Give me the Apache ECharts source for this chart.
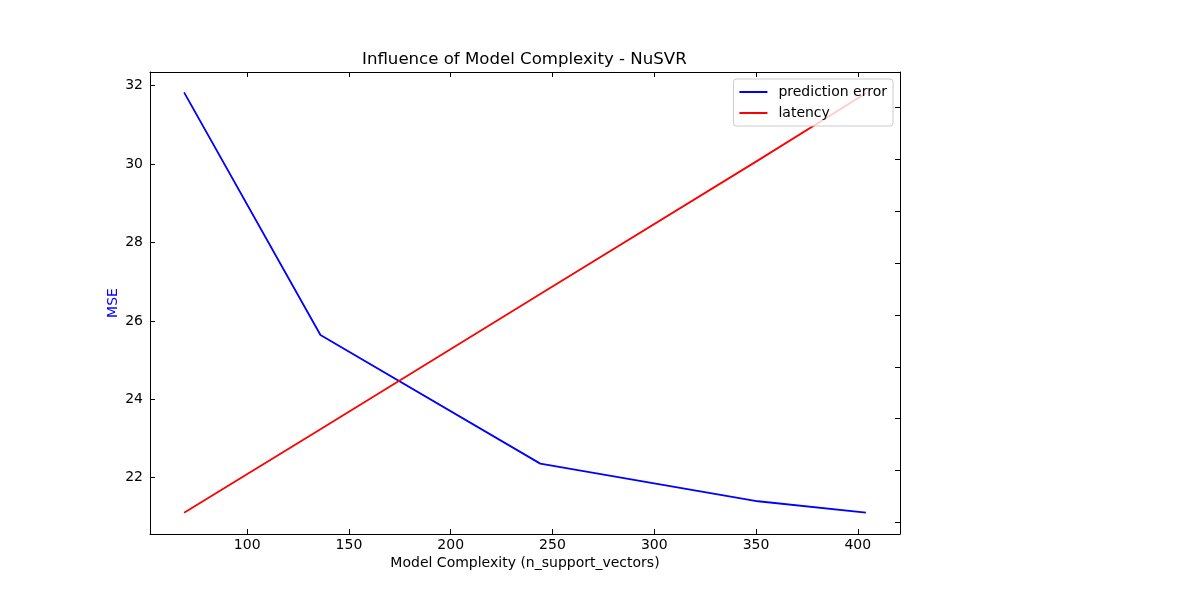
<!DOCTYPE html>
<html>
<head>
<meta charset="utf-8">
<script src="https://cdn.jsdelivr.net/npm/echarts@6/dist/echarts.min.js"></script>
<style>html,body{margin:0;padding:0;background:#fff}#c{width:1200px;height:600px}</style>
</head>
<body>
<div id="c"></div>
<script>
const nSupportVectors = [69, 136, 244, 351, 404];
const predictionError = [31.83, 25.64, 22.36, 21.40, 21.11];
const latency = [1.19, 2.80, 5.40, 7.97, 9.26];
const xTicks = [100, 150, 200, 250, 300, 350, 400];
const mseTicks = [22, 24, 26, 28, 30, 32];
const latencyTicks = [1, 2, 3, 4, 5, 6, 7, 8, 9];

const font = 'DejaVu Sans';
const chart = echarts.init(document.getElementById('c'), null, {renderer: 'canvas'});
const lineStyleAxis = {show: true, lineStyle: {color: '#000', width: 1}};
const tickIn = (vals) => ({show: true, inside: true, length: 5, customValues: vals, lineStyle: {color: '#000', width: 1}});

chart.setOption({
  animation: false,
  backgroundColor: '#fff',
  title: {
    text: 'Influence of Model Complexity - NuSVR',
    left: 357, top: 46,
    textStyle: {fontFamily: font, fontSize: 16.6, fontWeight: 'normal', color: '#000'}
  },
  grid: {left: 150, right: 300, top: 72, bottom: 66, show: false},
  legend: {
    right: 307, top: 79, orient: 'vertical',
    itemWidth: 34, itemHeight: 2, itemGap: 7,
    icon: 'path://M0,0h28v2h-28zM33.99,0h0.01v2h-0.01z',
    padding: [6, 6, 6, 6],
    borderColor: '#cccccc', borderWidth: 1, borderRadius: 3,
    backgroundColor: 'rgba(255,255,255,0.8)',
    textStyle: {fontFamily: font, fontSize: 14, color: '#000'},
    data: ['prediction error', 'latency']
  },
  xAxis: [{
    type: 'value', position: 'bottom',
    min: 52.25, max: 420.75,
    name: 'Model Complexity (n_support_vectors)', nameLocation: 'middle', nameGap: 22,
    nameMoveOverlap: false,
    nameTextStyle: {fontFamily: font, fontSize: 14, color: '#000'},
    axisLine: lineStyleAxis,
    axisTick: tickIn(xTicks),
    axisLabel: {customValues: xTicks, fontFamily: font, fontSize: 14, color: '#000', margin: 4},
    splitLine: {show: false}
  }, {
    type: 'value', position: 'top',
    min: 52.25, max: 420.75,
    axisLine: lineStyleAxis,
    axisTick: tickIn(xTicks),
    axisLabel: {show: false},
    splitLine: {show: false}
  }],
  yAxis: [{
    type: 'value', position: 'left',
    min: 20.565, max: 32.35,
    name: 'MSE', nameLocation: 'middle', nameGap: 30,
    nameMoveOverlap: false,
    nameTextStyle: {fontFamily: font, fontSize: 14, color: '#0000ff'},
    axisLine: lineStyleAxis,
    axisTick: tickIn(mseTicks),
    axisLabel: {customValues: mseTicks, fontFamily: font, fontSize: 14, color: '#000', margin: 7},
    splitLine: {show: false}
  }, {
    type: 'value', position: 'right',
    min: 0.783, max: 9.67,
    axisLine: lineStyleAxis,
    axisTick: tickIn(latencyTicks),
    axisLabel: {show: false},
    splitLine: {show: false}
  }],
  series: [{
    name: 'prediction error', type: 'line',
    xAxisIndex: 0, yAxisIndex: 0,
    data: nSupportVectors.map((x, i) => [x, predictionError[i]]),
    showSymbol: false, symbol: 'none',
    itemStyle: {color: '#0000ff'},
    lineStyle: {color: '#0000ff', width: 1.8}
  }, {
    name: 'latency', type: 'line',
    xAxisIndex: 0, yAxisIndex: 1,
    data: nSupportVectors.map((x, i) => [x, latency[i]]),
    showSymbol: false, symbol: 'none',
    itemStyle: {color: '#ff0000'},
    lineStyle: {color: '#ff0000', width: 1.8}
  }]
});
</script>
</body>
</html>
